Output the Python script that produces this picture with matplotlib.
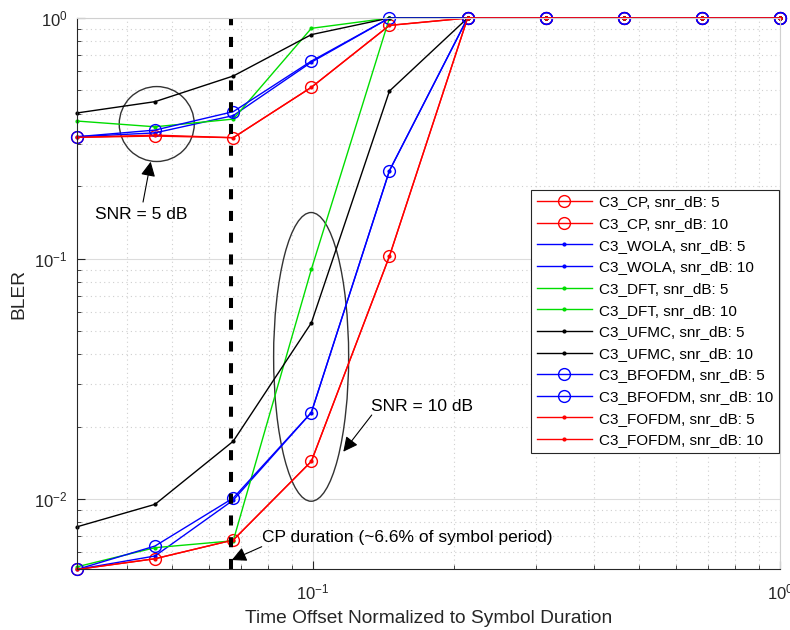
import numpy as np
import matplotlib
matplotlib.use('Agg')
import matplotlib.pyplot as plt
from matplotlib.patches import Ellipse

plt.rcParams['font.family'] = ['Liberation Sans', 'DejaVu Sans']

# time offsets (fraction of symbol duration), log spaced from 1/32 to 1
offsets = [0.03125, 0.0459, 0.0675, 0.0992, 0.1458, 0.2143, 0.3150, 0.4629, 0.6803, 1.0]

# BLER values
cp_5 = [0.319, 0.323, 0.318, 0.515, 0.932, 1, 1, 1, 1, 1]
cp_10 = [0.0051, 0.00565, 0.00676, 0.01435, 0.1023, 1, 1, 1, 1, 1]
wola_5 = [0.321, 0.333, 0.393, 0.655, 1, 1, 1, 1, 1, 1]
wola_10 = [0.0051, 0.0058, 0.0099, 0.0229, 0.232, 1, 1, 1, 1, 1]
dft_5 = [0.373, 0.353, 0.38, 0.906, 1, 1, 1, 1, 1, 1]
dft_10 = [0.00523, 0.00628, 0.00671, 0.0902, 1, 1, 1, 1, 1, 1]
ufmc_5 = [0.403, 0.449, 0.574, 0.853, 1, 1, 1, 1, 1, 1]
ufmc_10 = [0.00767, 0.00951, 0.0174, 0.054, 0.497, 1, 1, 1, 1, 1]
bfofdm_5 = [0.321, 0.342, 0.408, 0.662, 1, 1, 1, 1, 1, 1]
bfofdm_10 = [0.0051, 0.00638, 0.0101, 0.0229, 0.232, 1, 1, 1, 1, 1]
fofdm_5 = [0.319, 0.326, 0.318, 0.515, 0.932, 1, 1, 1, 1, 1]
fofdm_10 = [0.0051, 0.00565, 0.00676, 0.01435, 0.1023, 1, 1, 1, 1, 1]

cp_duration = 0.0667

fig = plt.figure(figsize=(7.9, 6.3), dpi=100)
ax = fig.add_axes([0.0975, 0.0968, 0.8899, 0.8746])

circ = dict(marker='o', markersize=8.5, markerfacecolor='none', lw=1.0, clip_on=False)
dot = dict(marker='.', markersize=4, lw=1.0, clip_on=False)

ax.plot(offsets, cp_5, color='red', label='C3_CP, snr_dB: 5', **circ)
ax.plot(offsets, cp_10, color='red', label='C3_CP, snr_dB: 10', **circ)
ax.plot(offsets, wola_5, color='blue', label='C3_WOLA, snr_dB: 5', **dot)
ax.plot(offsets, wola_10, color='blue', label='C3_WOLA, snr_dB: 10', **dot)
ax.plot(offsets, dft_5, color='#00dd00', label='C3_DFT, snr_dB: 5', **dot)
ax.plot(offsets, dft_10, color='#00dd00', label='C3_DFT, snr_dB: 10', **dot)
ax.plot(offsets, ufmc_5, color='black', label='C3_UFMC, snr_dB: 5', **dot)
ax.plot(offsets, ufmc_10, color='black', label='C3_UFMC, snr_dB: 10', **dot)
ax.plot(offsets, bfofdm_5, color='blue', label='C3_BFOFDM, snr_dB: 5', **circ)
ax.plot(offsets, bfofdm_10, color='blue', label='C3_BFOFDM, snr_dB: 10', **circ)
ax.plot(offsets, fofdm_5, color='red', label='C3_FOFDM, snr_dB: 5', **dot)
ax.plot(offsets, fofdm_10, color='red', label='C3_FOFDM, snr_dB: 10', **dot)

ax.axvline(cp_duration, color='black', lw=2.9, ls=(0, (2.5, 2.9)), zorder=2.5)

ax.set_xscale('log')
ax.set_yscale('log')
ax.set_xlim(0.03125, 1)
ax.set_ylim(0.00512, 1)

ax.grid(True, which='major', color='#dcdcdc', lw=0.8, ls='-')
ax.grid(True, which='minor', color='#cfcfcf', lw=0.8, ls=(0, (1, 3)))
ax.set_axisbelow(True)
ax.tick_params(which='both', direction='in', top=False, right=False,
               labelsize=12, colors='#262626')
ax.tick_params(which='major', length=6)
ax.tick_params(which='minor', length=3)
ax.tick_params(axis='x', which='both', pad=10)
ax.tick_params(axis='y', which='both', pad=7)
for s in ['top', 'right']:
    ax.spines[s].set_color('#d0d0d0')
for s in ['left', 'bottom']:
    ax.spines[s].set_color('#262626')

ax.set_xlabel('Time Offset Normalized to Symbol Duration', fontsize=13.8, color='#262626')
ax.set_ylabel('BLER', fontsize=13.8, color='#262626')
ax.xaxis.set_label_coords(0.5, -0.074)
ax.yaxis.set_label_coords(-0.07, 0.5)

ax.add_patch(Ellipse((0.1134, 0.8076), 0.1067, 0.136, transform=ax.transAxes,
                     fill=False, edgecolor='#333333', lw=1.0))
ax.add_patch(Ellipse((0.333, 0.385), 0.1067, 0.524, transform=ax.transAxes,
                     fill=False, edgecolor='#333333', lw=1.0))

arrow = dict(arrowstyle='-|>', color='black', lw=0.8, mutation_scale=22,
             shrinkA=0, shrinkB=0)
ax.annotate('', xy=(0.1048, 0.7392), xytext=(0.0939, 0.666),
            xycoords='axes fraction', arrowprops=arrow)
ax.text(0.0917, 0.644, 'SNR = 5 dB', transform=ax.transAxes, fontsize=12.5,
        ha='center', va='center')
ax.annotate('', xy=(0.3788, 0.2129), xytext=(0.4192, 0.2795),
            xycoords='axes fraction', arrowprops=arrow)
ax.text(0.4182, 0.2958, 'SNR = 10 dB', transform=ax.transAxes, fontsize=12.5,
        va='center')
ax.annotate('', xy=(0.2201, 0.0163), xytext=(0.2627, 0.0405),
            xycoords='axes fraction', arrowprops=arrow)
ax.text(0.2627, 0.0563, 'CP duration (~6.6% of symbol period)',
        transform=ax.transAxes, fontsize=12.5, va='center')

leg = ax.legend(loc='upper right', bbox_to_anchor=(0.9986, 0.6878), fontsize=11,
                fancybox=False, edgecolor='#262626', framealpha=1,
                handlelength=3.6, labelspacing=0.5, borderpad=0.35,
                handletextpad=0.5, borderaxespad=0)
leg.get_frame().set_linewidth(0.8)

fig.savefig('out.png', dpi=100)
